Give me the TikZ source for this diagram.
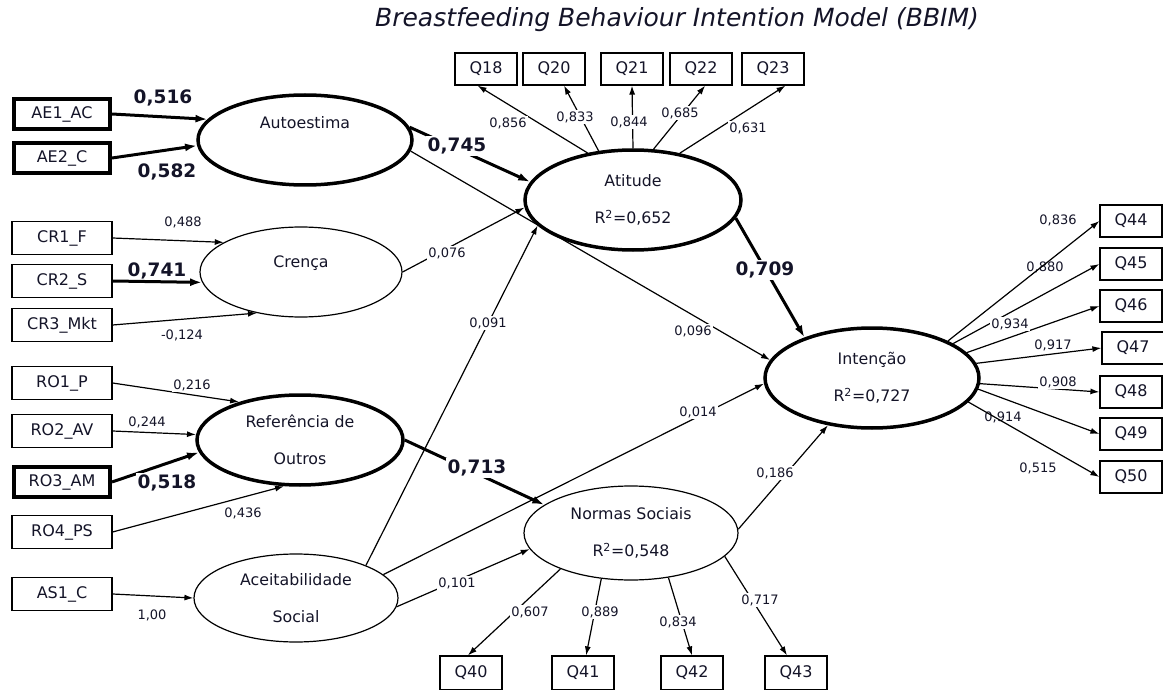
\documentclass[tikz,border=0pt]{standalone}
\usepackage{fontspec}
\setmainfont{DejaVu Sans}
\usepackage{tikz}
\usetikzlibrary{arrows.meta,shapes.geometric}
\definecolor{ink}{RGB}{20,20,40}

\begin{document}
\begin{tikzpicture}[x=1pt, y=-1pt, >={Latex[length=9pt,width=6pt]},
  every node/.style={text=ink},
  box/.style={draw, rectangle, line width=1.2pt, minimum width=100pt, minimum height=33pt, inner sep=0pt, font=\fontsize{16}{18}\selectfont},
  boxb/.style={box, line width=4pt, minimum width=96pt, minimum height=30pt},
  qbox/.style={box, minimum width=62pt, minimum height=32pt},
  lat/.style={draw, ellipse, line width=1.2pt, inner sep=0pt, align=center, font=\fontsize{15.8}{37}\selectfont},
  latb/.style={lat, line width=3.5pt},
  lbl/.style={font=\fontsize{15.8}{18}\selectfont},
  val/.style={fill=white, inner sep=1.5pt, font=\fontsize{13}{15}\selectfont},
  valb/.style={val, font=\bfseries\fontsize{18.5}{21}\selectfont},
  pth/.style={->, line width=1.2pt},
  pthb/.style={->, line width=3pt, >={Latex[length=12pt,width=8pt]}}]
  \useasboundingbox (0,0) rectangle (1163,690);

  \node[font=\itshape\fontsize{25}{30}\selectfont] (title) at (677,20) {Breastfeeding Behaviour Intention Model (BBIM)};

  \node[boxb] (ae1) at (62,114) {AE1\_AC};
  \node[boxb] (ae2) at (62,158) {AE2\_C};
  \node[box] (cr1) at (62,238) {CR1\_F};
  \node[box] (cr2) at (62,281) {CR2\_S};
  \node[box] (cr3) at (62,325) {CR3\_Mkt};
  \node[box] (ro1) at (62,383) {RO1\_P};
  \node[box] (ro2) at (62,431) {RO2\_AV};
  \node[boxb] (ro3) at (62,482) {RO3\_AM};
  \node[box] (ro4) at (62,532) {RO4\_PS};
  \node[box] (as1) at (62,594) {AS1\_C};

  \node[latb, minimum width=214pt, minimum height=90pt, label={[lbl, yshift=17pt]center:Autoestima}] (aut) at (305,140) {};
  \node[lat, minimum width=202pt, minimum height=90pt, label={[lbl, yshift=9pt]center:Crença}] (cre) at (301,272) {};
  \node[latb, minimum width=206pt, minimum height=90pt] (ref) at (300,440) {Referência de\\Outros};
  \node[lat, minimum width=204pt, minimum height=88pt] (ace) at (296,598) {Aceitabilidade\\Social};
  \node[latb, minimum width=216pt, minimum height=100pt] (att) at (633,200) {Atitude\\R\textsuperscript{2}=0,652};
  \node[latb, minimum width=214pt, minimum height=100pt] (int) at (872,378) {Intenção\\R\textsuperscript{2}=0,727};
  \node[lat, minimum width=214pt, minimum height=94pt] (ns) at (631,533) {Normas Sociais\\R\textsuperscript{2}=0,548};

  \node[qbox] (q18) at (486,69) {Q18};
  \node[qbox] (q20) at (554,69) {Q20};
  \node[qbox] (q21) at (632,69) {Q21};
  \node[qbox] (q22) at (701,69) {Q22};
  \node[qbox] (q23) at (773,69) {Q23};
  \node[qbox] (q44) at (1131,221) {Q44};
  \node[qbox] (q45) at (1131,264) {Q45};
  \node[qbox] (q46) at (1131,306) {Q46};
  \node[qbox] (q47) at (1133,348) {Q47};
  \node[qbox] (q48) at (1131,392) {Q48};
  \node[qbox] (q49) at (1131,434) {Q49};
  \node[qbox] (q50) at (1131,477) {Q50};
  \node[qbox, minimum height=34pt] (q40) at (471,673) {Q40};
  \node[qbox, minimum height=34pt] (q41) at (583,673) {Q41};
  \node[qbox, minimum height=34pt] (q42) at (692,673) {Q42};
  \node[qbox, minimum height=34pt] (q43) at (796,673) {Q43};

  \draw[pthb] (ae1.east) -- (aut.168);
  \draw[pthb] (ae2.east) -- (aut.183);
  \draw[pth] (cr1.east) -- (cre.159);
  \draw[pthb] (cr2.east) -- (cre.186);
  \draw[pth] (cr3.east) -- (cre.223);
  \draw[pth] (ro1.east) -- (ref.148);
  \draw[pth] (ro2.east) -- (ref.177);
  \draw[pthb] (ro3.east) -- (ref.187);
  \draw[pth] (ro4.east) -- (ref.251);
  \draw[pth] (as1.east) -- (ace.180);

  \draw[pthb] (aut.7) -- (att.170);
  \draw[pth] (aut.-6) -- (int.170);
  \draw[pth] (cre.0) -- (att.184);
  \draw[pthb] (ref.0) -- (ns.162);
  \draw[pth] (ace.25) -- (att.195);
  \draw[pth] (ace.15) -- (int.183);
  \draw[pth] (ace.-5) -- (ns.189);
  \draw[pthb] (att.-10) -- (int.149);
  \draw[pth] (ns.2) -- (int.227);

  \draw[pth] (att.134) -- (q18.243);
  \draw[pth] (att.125) -- (q20.301);
  \draw[pth] (att.90) -- (q21.south);
  \draw[pth] (att.68) -- (q22.284);
  \draw[pth] (att.45) -- (q23.307);

  \draw[pth] (int.23) -- (q45.west);
  \draw[pth] (int.15) -- (q46.west);
  \draw[pth] (int.-3) -- (q48.west);
  \draw[pth] (int.-6) -- (q49.west);

  \draw[pth] (ns.207) -- (q40.100);
  \draw[pth] (ns.237) -- (q41.80);
  \draw[pth] (ns.310) -- (q42.north);
  \draw[pth] (ns.346) -- (q43.117);

  \node[valb] (w516) at (163,98) {0,516};
  \node[valb] (w582) at (167,172) {0,582};
  \node[val] (w488) at (183,222) {0,488};
  \node[valb, fill=none] (w741) at (157,271) {0,741};
  \node[val] (w124) at (182,335) {-0,124};
  \node[val] (w216) at (192,385) {0,216};
  \node[val] (w244) at (147,422) {0,244};
  \node[valb] (w518) at (167,483) {0,518};
  \node[val] (w436) at (243,513) {0,436};
  \node[val] (w100) at (152,615) {1,00};
  \node[valb] (w745) at (457,146) {0,745};
  \node[val] (w856) at (508,123) {0,856};
  \node[val] (w833) at (575,117) {0,833};
  \node[val] (w844) at (629,122) {0,844};
  \node[val] (w685) at (680,113) {0,685};
  \node[val] (w631) at (748,128) {0,631};
  \node[val] (w076) at (447,253) {0,076};
  \node[valb] (w709) at (765,270) {0,709};
  \node[val] (w091) at (488,323) {0,091};
  \node[val] (w096) at (693,331) {0,096};
  \node[val] (w014) at (698,412) {0,014};
  \node[valb] (w713) at (477,468) {0,713};
  \node[val] (w186) at (775,473) {0,186};
  \node[val] (w101) at (457,583) {0,101};
  \node[val] (w607) at (530,612) {0,607};
  \node[val] (w889) at (600,612) {0,889};
  \node[val] (w834) at (678,622) {0,834};
  \node[val] (w717) at (760,600) {0,717};
  \node[val] (w836) at (1058,220) {0,836};
  \node[val] (w880) at (1045,267) {0,880};
  \node[val] (w934) at (1010,324) {0,934};
  \node[val] (w917) at (1053,345) {0,917};
  \node[val] (w908) at (1058,382) {0,908};
  \node[val] (w914) at (1003,417) {0,914};
  \node[val] (w515) at (1038,468) {0,515};

  \draw[pth] (int.26) -- (q44.west);
  \draw[pth] (int.8) -- (q47.west);
  \draw[pth] (int.-14) -- (q50.west);
\end{tikzpicture}
\end{document}
